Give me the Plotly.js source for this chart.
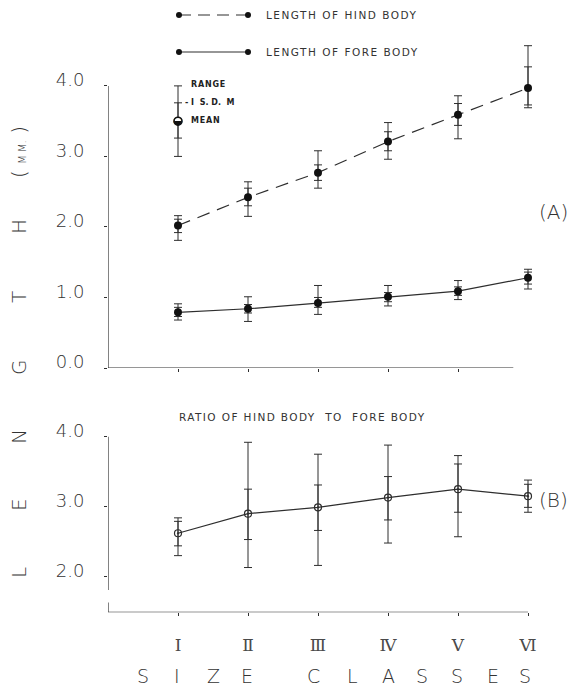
<!DOCTYPE html>
<html>
<head>
<meta charset="utf-8">
<script src="https://cdn.plot.ly/plotly-3.0.1.min.js"></script>
<style>html,body{margin:0;padding:0;background:#fff}#chart{width:570px;height:686px}</style>
</head>
<body>
<div id="chart"></div>
<script>
// ---------- DATA ----------
const classes = ['Ⅰ', 'Ⅱ', 'Ⅲ', 'Ⅳ', 'Ⅴ', 'Ⅵ'];
const classPos = [1, 2, 3, 4, 5, 6];

const hindMean = [2.02, 2.42, 2.77, 3.21, 3.59, 3.97];
const hindMax  = [2.16, 2.64, 3.08, 3.48, 3.86, 4.57];
const hindMin  = [1.81, 2.15, 2.55, 2.96, 3.25, 3.69];
const hindSdHi = [2.11, 2.55, 2.88, 3.35, 3.75, 4.27];
const hindSdLo = [1.92, 2.30, 2.66, 3.08, 3.44, 3.73];

const foreMean = [0.79, 0.84, 0.92, 1.01, 1.09, 1.28];
const foreMax  = [0.91, 1.01, 1.17, 1.17, 1.24, 1.40];
const foreMin  = [0.68, 0.66, 0.76, 0.88, 0.97, 1.12];
const foreSdHi = [0.86, 0.90, 1.00, 1.07, 1.15, 1.36];
const foreSdLo = [0.73, 0.78, 0.86, 0.94, 1.03, 1.19];

const ratioMean = [2.62, 2.90, 2.99, 3.13, 3.25, 3.15];
const ratioMax  = [2.84, 3.92, 3.75, 3.88, 3.73, 3.38];
const ratioMin  = [2.30, 2.13, 2.16, 2.48, 2.57, 2.92];
const ratioSdHi = [2.79, 3.25, 3.31, 3.43, 3.61, 3.32];
const ratioSdLo = [2.44, 2.53, 2.66, 2.81, 2.92, 2.99];

// explanatory key (range / S.D. / mean)
const keyX = [1];
const keyMean = [3.5];
const keyMax = [4.0];
const keyMin = [3.0];
const keySdHi = [3.76];
const keySdLo = [3.26];

const yTicksA = [0, 1, 2, 3, 4];
const yTicksB = [2, 3, 4];

// ---------- STYLE / HELPERS ----------
const INK = '#2e2e2e';
const W = 570, H = 686;
const PX = x => x / W;
const PY = y => 1 - y / H;
const thinFont = {family: 'DejaVu Sans, sans-serif', color: '#333', weight: 200};

function errTrace(x, mean, hi, lo, xa, ya, width) {
  return {
    x: x, y: mean, type: 'scatter', mode: 'markers',
    marker: {size: 1, color: 'rgba(0,0,0,0)'},
    xaxis: xa, yaxis: ya, hoverinfo: 'skip', showlegend: false, cliponaxis: false,
    error_y: {
      type: 'data', symmetric: false,
      array: hi.map((h, i) => h - mean[i]),
      arrayminus: mean.map((m, i) => m - lo[i]),
      color: INK, thickness: 1, width: width
    }
  };
}

const traces = [
  // panel A - hind body
  errTrace(classPos, hindMean, hindMax, hindMin, 'x', 'y', 4),
  errTrace(classPos, hindMean, hindSdHi, hindSdLo, 'x', 'y', 4),
  {x: classPos, y: hindMean, type: 'scatter', mode: 'lines+markers', xaxis: 'x', yaxis: 'y',
   line: {color: INK, width: 1.2, dash: '13px,8px'}, marker: {color: '#111', size: 8},
   showlegend: false, cliponaxis: false},
  // panel A - fore body
  errTrace(classPos, foreMean, foreMax, foreMin, 'x', 'y', 4),
  errTrace(classPos, foreMean, foreSdHi, foreSdLo, 'x', 'y', 4),
  {x: classPos, y: foreMean, type: 'scatter', mode: 'lines+markers', xaxis: 'x', yaxis: 'y',
   line: {color: INK, width: 1.2}, marker: {color: '#111', size: 8},
   showlegend: false, cliponaxis: false},
  // key
  errTrace(keyX, keyMean, keyMax, keyMin, 'x', 'y', 4),
  errTrace(keyX, keyMean, keySdHi, keySdLo, 'x', 'y', 4),
  {x: keyX, y: keyMean, type: 'scatter', mode: 'markers', xaxis: 'x', yaxis: 'y',
   marker: {symbol: 'circle', color: '#fff', size: 8, line: {color: '#111', width: 1.5}},
   showlegend: false},
  {x: keyX, y: keyMean, type: 'scatter', mode: 'text', xaxis: 'x', yaxis: 'y',
   text: ['◒'], textfont: {size: 11, color: '#111', family: 'DejaVu Sans'},
   textposition: 'middle center', showlegend: false},
  // panel B - ratio
  errTrace(classPos, ratioMean, ratioMax, ratioMin, 'x2', 'y2', 4),
  errTrace(classPos, ratioMean, ratioSdHi, ratioSdLo, 'x2', 'y2', 4),
  {x: classPos, y: ratioMean, type: 'scatter', mode: 'lines+markers', xaxis: 'x2', yaxis: 'y2',
   line: {color: INK, width: 1.2},
   marker: {symbol: 'circle-open-dot', color: INK, size: 7, line: {width: 1.2, color: INK}},
   showlegend: false, cliponaxis: false}
];

const xDomain = [PX(108), PX(560)];
const xRange = [0, (560 - 108) / 70];

const baseY = {
  showgrid: false, zeroline: false, showline: false,
  ticks: 'outside', ticklen: 3, tickcolor: INK, tickwidth: 1,
  tickformat: '.1f', tickfont: Object.assign({size: 18}, thinFont),
  ticklabelstandoff: 16, ticklabelshift: -6, fixedrange: true
};

const layout = {
  width: W, height: H,
  margin: {l: 0, r: 0, t: 0, b: 0},
  paper_bgcolor: '#fff', plot_bgcolor: 'rgba(0,0,0,0)',
  showlegend: false,
  xaxis: {domain: xDomain, range: xRange, anchor: 'y',
          showgrid: false, zeroline: false, showline: false,
          tickvals: classPos.slice(0, 5), ticks: 'outside', ticklen: 3, tickcolor: INK,
          showticklabels: false, fixedrange: true},
  yaxis: Object.assign({domain: [PY(368), PY(33)], range: [0, 4.75], anchor: 'x',
          tickvals: yTicksA}, baseY),
  xaxis2: {domain: xDomain, range: xRange, anchor: 'y2',
           showgrid: false, zeroline: false, showline: false,
           tickvals: classPos, ticktext: classes, ticks: 'outside', ticklen: 3, tickcolor: INK,
           tickfont: {family: 'DejaVu Serif, serif', size: 17, color: '#4a4a4a'},
           ticklabelstandoff: 14, fixedrange: true},
  yaxis2: Object.assign({domain: [PY(612.3), PY(429.7)], range: [1.49, 4.1], anchor: 'x2',
           tickvals: yTicksB}, baseY),
  shapes: [],
  annotations: []
};

// axis lines (hand-drawn style extents)
const axLine = {color: INK, width: 1.2};
layout.shapes.push(
  {type: 'line', xref: 'x', yref: 'y', x0: 0, x1: 5.79, y0: 0, y1: 0, line: axLine},
  {type: 'line', xref: 'x', yref: 'y', x0: 0, x1: 0, y0: 0, y1: 4.0, line: axLine},
  {type: 'line', xref: 'x2', yref: 'y2', x0: 0, x1: 6, y0: 1.49, y1: 1.49, line: axLine},
  {type: 'line', xref: 'x2', yref: 'y2', x0: 0, x1: 0, y0: 1.81, y1: 4.0, line: axLine},
  {type: 'line', xref: 'x2', yref: 'y2', x0: 0, x1: 0, y0: 1.49, y1: 1.63, line: axLine}
);

// legend drawn at top
function legendRow(yPix, dash) {
  layout.shapes.push({type: 'line', xref: 'paper', yref: 'paper',
    x0: PX(179), x1: PX(248), y0: PY(yPix), y1: PY(yPix),
    line: {color: INK, width: 1.2, dash: dash}});
  [179, 248].forEach(cx => layout.shapes.push({type: 'circle', xref: 'paper', yref: 'paper',
    x0: PX(cx - 3), x1: PX(cx + 3), y0: PY(yPix + 3), y1: PY(yPix - 3),
    fillcolor: '#111', line: {color: '#111', width: 0}}));
}
legendRow(15, '12px,7px');
legendRow(52, 'solid');

function ann(text, x, y, opts) {
  layout.annotations.push(Object.assign({
    text: text, xref: 'paper', yref: 'paper', x: PX(x), y: PY(y),
    showarrow: false, xanchor: 'center', yanchor: 'middle'
  }, opts || {}));
}
const smallFont = {family: 'DejaVu Sans, sans-serif', size: 10.5, color: '#333'};
const spaced = (t, s) => '<span style="letter-spacing:' + s + 'px">' + t + '</span>';
ann(spaced('LENGTH OF HIND BODY', 1.5), 264, 15, {xanchor: 'left', font: smallFont});
ann(spaced('LENGTH OF FORE BODY', 1.5), 264, 52, {xanchor: 'left', font: smallFont});
ann(spaced('RATIO OF HIND BODY  TO  FORE BODY', 1.4), 302, 417, {font: smallFont});

const keyFont = {family: 'DejaVu Sans, sans-serif', size: 8, color: '#222', weight: 'bold'};
ann(spaced('RANGE', 0.8), 189, 84, {xanchor: 'left', font: keyFont});
ann('- I  S. D.  M', 183, 102, {xanchor: 'left', font: keyFont});
ann(spaced('MEAN', 0.8), 189, 120, {xanchor: 'left', font: keyFont});

const bigFont = Object.assign({size: 20}, thinFont);
ann('(A)', 553, 212, {font: bigFont});
ann('(B)', 553, 500, {font: bigFont});

// vertical axis title letters
const yLetters = [['L', 573], ['E', 505], ['N', 437], ['G', 367], ['T', 297], ['H', 227]];
yLetters.forEach(([c, y]) => ann(c, 19, y, {textangle: -90, font: bigFont}));
ann('(<span style="font-size:10px">  M M.  </span>)', 19, 152,
    {textangle: -90, font: Object.assign({}, thinFont, {size: 20})});

// horizontal axis title letters
const xLetters = [['S', 143], ['I', 177], ['Z', 213], ['E', 247], ['C', 313], ['L', 352],
                  ['A', 388], ['S', 422], ['S', 457], ['E', 493], ['S', 525]];
xLetters.forEach(([c, x]) => ann(c, x, 676, {font: Object.assign({}, thinFont, {size: 19})}));

Plotly.newPlot('chart', traces, layout, {staticPlot: true});
</script>
</body>
</html>
